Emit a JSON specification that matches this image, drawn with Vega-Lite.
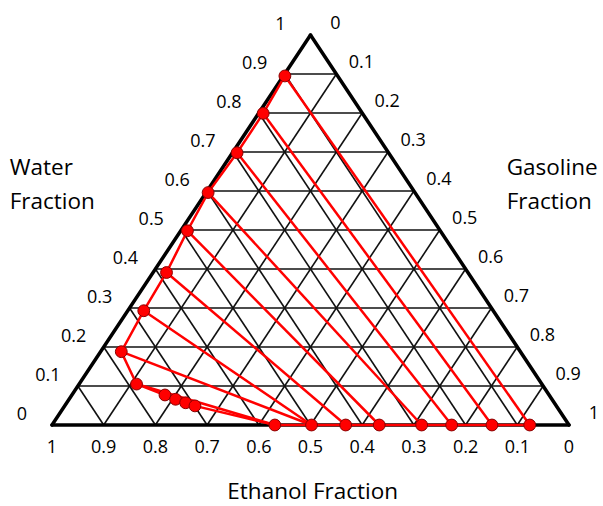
{
  "$schema": "https://vega.github.io/schema/vega-lite/v6.json",
  "width": 517,
  "height": 390,
  "autosize": {"type": "none"},
  "padding": {"left": 52, "top": 35, "right": 34, "bottom": 81},
  "background": "white",
  "config": {"view": {"stroke": null}, "text": {"font": "Open Sans", "color": "black"}},
  "datasets": {
    "grid": [
      {"x": 0.05, "y": 0.1, "x2": 0.95, "y2": 0.1},
      {"x": 0.1, "y": 0.2, "x2": 0.9, "y2": 0.2},
      {"x": 0.15, "y": 0.3, "x2": 0.85, "y2": 0.3},
      {"x": 0.2, "y": 0.4, "x2": 0.8, "y2": 0.4},
      {"x": 0.25, "y": 0.5, "x2": 0.75, "y2": 0.5},
      {"x": 0.3, "y": 0.6, "x2": 0.7, "y2": 0.6},
      {"x": 0.35, "y": 0.7, "x2": 0.65, "y2": 0.7},
      {"x": 0.4, "y": 0.8, "x2": 0.6, "y2": 0.8},
      {"x": 0.45, "y": 0.9, "x2": 0.55, "y2": 0.9},
      {"x": 0.1, "y": 0, "x2": 0.55, "y2": 0.9},
      {"x": 0.2, "y": 0, "x2": 0.6, "y2": 0.8},
      {"x": 0.3, "y": 0, "x2": 0.65, "y2": 0.7},
      {"x": 0.4, "y": 0, "x2": 0.7, "y2": 0.6},
      {"x": 0.5, "y": 0, "x2": 0.75, "y2": 0.5},
      {"x": 0.6, "y": 0, "x2": 0.8, "y2": 0.4},
      {"x": 0.7, "y": 0, "x2": 0.85, "y2": 0.3},
      {"x": 0.8, "y": 0, "x2": 0.9, "y2": 0.2},
      {"x": 0.9, "y": 0, "x2": 0.95, "y2": 0.1},
      {"x": 0.9, "y": 0, "x2": 0.45, "y2": 0.9},
      {"x": 0.8, "y": 0, "x2": 0.4, "y2": 0.8},
      {"x": 0.7, "y": 0, "x2": 0.35, "y2": 0.7},
      {"x": 0.6, "y": 0, "x2": 0.3, "y2": 0.6},
      {"x": 0.5, "y": 0, "x2": 0.25, "y2": 0.5},
      {"x": 0.4, "y": 0, "x2": 0.2, "y2": 0.4},
      {"x": 0.3, "y": 0, "x2": 0.15, "y2": 0.3},
      {"x": 0.2, "y": 0, "x2": 0.1, "y2": 0.2},
      {"x": 0.1, "y": 0, "x2": 0.05, "y2": 0.1}
    ],
    "outline": [
      {"x": 0, "y": 0, "x2": 1, "y2": 0},
      {"x": 0, "y": 0, "x2": 0.5, "y2": 1},
      {"x": 1, "y": 0, "x2": 0.5, "y2": 1}
    ],
    "phases": [
      {"order": 1, "water": 0.895, "gasoline": 0.003, "ethanol": 0.102, "x": 0.4505},
      {"order": 2, "water": 0.799, "gasoline": 0.009, "ethanol": 0.192, "x": 0.4085},
      {"order": 3, "water": 0.698, "gasoline": 0.009, "ethanol": 0.293, "x": 0.358},
      {"order": 4, "water": 0.596, "gasoline": 0.004, "ethanol": 0.4, "x": 0.302},
      {"order": 5, "water": 0.498, "gasoline": 0.013, "ethanol": 0.489, "x": 0.262},
      {"order": 6, "water": 0.391, "gasoline": 0.026, "ethanol": 0.583, "x": 0.2215},
      {"order": 7, "water": 0.293, "gasoline": 0.031, "ethanol": 0.676, "x": 0.1775},
      {"order": 8, "water": 0.188, "gasoline": 0.04, "ethanol": 0.772, "x": 0.134},
      {"order": 9, "water": 0.105, "gasoline": 0.111, "ethanol": 0.784, "x": 0.1635},
      {"order": 10, "water": 0.077, "gasoline": 0.18, "ethanol": 0.743, "x": 0.2185},
      {"order": 11, "water": 0.066, "gasoline": 0.206, "ethanol": 0.728, "x": 0.239},
      {"order": 12, "water": 0.057, "gasoline": 0.23, "ethanol": 0.713, "x": 0.2585},
      {"order": 13, "water": 0.049, "gasoline": 0.252, "ethanol": 0.699, "x": 0.2765},
      {"order": 14, "water": 0, "gasoline": 0.431, "ethanol": 0.569, "x": 0.431},
      {"order": 15, "water": 0, "gasoline": 0.502, "ethanol": 0.498, "x": 0.502},
      {"order": 16, "water": 0, "gasoline": 0.568, "ethanol": 0.432, "x": 0.568},
      {"order": 17, "water": 0, "gasoline": 0.633, "ethanol": 0.367, "x": 0.633},
      {"order": 18, "water": 0, "gasoline": 0.715, "ethanol": 0.285, "x": 0.715},
      {"order": 19, "water": 0, "gasoline": 0.773, "ethanol": 0.227, "x": 0.773},
      {"order": 20, "water": 0, "gasoline": 0.851, "ethanol": 0.149, "x": 0.851},
      {"order": 21, "water": 0, "gasoline": 0.924, "ethanol": 0.076, "x": 0.924}
    ],
    "ties": [
      {"x": 0.4505, "y": 0.895, "x2": 0.924, "y2": 0},
      {"x": 0.4085, "y": 0.799, "x2": 0.851, "y2": 0},
      {"x": 0.358, "y": 0.698, "x2": 0.773, "y2": 0},
      {"x": 0.302, "y": 0.596, "x2": 0.715, "y2": 0},
      {"x": 0.262, "y": 0.498, "x2": 0.633, "y2": 0},
      {"x": 0.2215, "y": 0.391, "x2": 0.568, "y2": 0},
      {"x": 0.1775, "y": 0.293, "x2": 0.502, "y2": 0},
      {"x": 0.134, "y": 0.188, "x2": 0.502, "y2": 0},
      {"x": 0.1635, "y": 0.105, "x2": 0.431, "y2": 0}
    ],
    "waterLabels": [
      {"x": 0, "y": 0, "label": "0"},
      {"x": 0.05, "y": 0.1, "label": "0.1"},
      {"x": 0.1, "y": 0.2, "label": "0.2"},
      {"x": 0.15, "y": 0.3, "label": "0.3"},
      {"x": 0.2, "y": 0.4, "label": "0.4"},
      {"x": 0.25, "y": 0.5, "label": "0.5"},
      {"x": 0.3, "y": 0.6, "label": "0.6"},
      {"x": 0.35, "y": 0.7, "label": "0.7"},
      {"x": 0.4, "y": 0.8, "label": "0.8"},
      {"x": 0.45, "y": 0.9, "label": "0.9"},
      {"x": 0.5, "y": 1, "label": "1"}
    ],
    "ethanolLabels": [
      {"x": 0, "y": 0, "label": "1"},
      {"x": 0.1, "y": 0, "label": "0.9"},
      {"x": 0.2, "y": 0, "label": "0.8"},
      {"x": 0.3, "y": 0, "label": "0.7"},
      {"x": 0.4, "y": 0, "label": "0.6"},
      {"x": 0.5, "y": 0, "label": "0.5"},
      {"x": 0.6, "y": 0, "label": "0.4"},
      {"x": 0.7, "y": 0, "label": "0.3"},
      {"x": 0.8, "y": 0, "label": "0.2"},
      {"x": 0.9, "y": 0, "label": "0.1"},
      {"x": 1, "y": 0, "label": "0"}
    ],
    "gasolineLabels": [
      {"x": 0.5, "y": 1, "label": "0"},
      {"x": 0.55, "y": 0.9, "label": "0.1"},
      {"x": 0.6, "y": 0.8, "label": "0.2"},
      {"x": 0.65, "y": 0.7, "label": "0.3"},
      {"x": 0.7, "y": 0.6, "label": "0.4"},
      {"x": 0.75, "y": 0.5, "label": "0.5"},
      {"x": 0.8, "y": 0.4, "label": "0.6"},
      {"x": 0.85, "y": 0.3, "label": "0.7"},
      {"x": 0.9, "y": 0.2, "label": "0.8"},
      {"x": 0.95, "y": 0.1, "label": "0.9"},
      {"x": 1, "y": 0, "label": "1"}
    ],
    "sideTitles": [
      {"x": -0.0818, "y": 0.659, "lines": ["Water", "Fraction"]},
      {"x": 0.8795, "y": 0.659, "lines": ["Gasoline", "Fraction"]}
    ],
    "bottomTitle": [
      {"x": 0.5043, "y": -0.172, "lines": "Ethanol Fraction"}
    ]
  },
  "layer": [
    {
      "data": {"name": "grid"},
      "mark": {"type": "rule", "color": "#111111", "strokeWidth": 1.6},
      "encoding": {
        "x": {"field": "x", "type": "quantitative", "scale": {"domain": [0, 1], "nice": false, "zero": false}, "axis": null},
        "y": {"field": "y", "type": "quantitative", "scale": {"domain": [0, 1], "nice": false, "zero": false}, "axis": null},
        "x2": {"field": "x2"},
        "y2": {"field": "y2"}
      }
    },
    {
      "data": {"name": "outline"},
      "mark": {"type": "rule", "color": "black", "strokeWidth": 3.5, "strokeCap": "round"},
      "encoding": {
        "x": {"field": "x", "type": "quantitative", "axis": null},
        "y": {"field": "y", "type": "quantitative", "axis": null},
        "x2": {"field": "x2"},
        "y2": {"field": "y2"}
      }
    },
    {
      "data": {"name": "ties"},
      "mark": {"type": "rule", "color": "#ff0000", "strokeWidth": 2.5},
      "encoding": {
        "x": {"field": "x", "type": "quantitative", "axis": null},
        "y": {"field": "y", "type": "quantitative", "axis": null},
        "x2": {"field": "x2"},
        "y2": {"field": "y2"}
      }
    },
    {
      "data": {"name": "phases"},
      "mark": {"type": "line", "color": "#ff0000", "strokeWidth": 2.5},
      "encoding": {
        "x": {"field": "x", "type": "quantitative", "axis": null},
        "y": {"field": "water", "type": "quantitative", "axis": null},
        "order": {"field": "order", "type": "quantitative"}
      }
    },
    {
      "data": {"name": "phases"},
      "mark": {"type": "circle", "color": "#ff0000", "size": 140, "opacity": 1, "stroke": "#8a0000", "strokeWidth": 1},
      "encoding": {
        "x": {"field": "x", "type": "quantitative", "axis": null},
        "y": {"field": "water", "type": "quantitative", "axis": null}
      }
    },
    {
      "data": {"name": "waterLabels"},
      "mark": {"type": "text", "fontSize": 18, "align": "center", "baseline": "middle", "dx": -30, "dy": -10},
      "encoding": {
        "x": {"field": "x", "type": "quantitative", "axis": null},
        "y": {"field": "y", "type": "quantitative", "axis": null},
        "text": {"field": "label", "type": "nominal"}
      }
    },
    {
      "data": {"name": "ethanolLabels"},
      "mark": {"type": "text", "fontSize": 18, "align": "center", "baseline": "middle", "dy": 23},
      "encoding": {
        "x": {"field": "x", "type": "quantitative", "axis": null},
        "y": {"field": "y", "type": "quantitative", "axis": null},
        "text": {"field": "label", "type": "nominal"}
      }
    },
    {
      "data": {"name": "gasolineLabels"},
      "mark": {"type": "text", "fontSize": 18, "align": "center", "baseline": "middle", "dx": 25, "dy": -11},
      "encoding": {
        "x": {"field": "x", "type": "quantitative", "axis": null},
        "y": {"field": "y", "type": "quantitative", "axis": null},
        "text": {"field": "label", "type": "nominal"}
      }
    },
    {
      "data": {"name": "sideTitles"},
      "mark": {"type": "text", "fontSize": 22.5, "align": "left", "baseline": "middle", "lineHeight": 34},
      "encoding": {
        "x": {"field": "x", "type": "quantitative", "axis": null},
        "y": {"field": "y", "type": "quantitative", "axis": null},
        "text": {"field": "lines", "type": "nominal"}
      }
    },
    {
      "data": {"name": "bottomTitle"},
      "mark": {"type": "text", "fontSize": 22.5, "align": "center", "baseline": "middle"},
      "encoding": {
        "x": {"field": "x", "type": "quantitative", "axis": null},
        "y": {"field": "y", "type": "quantitative", "axis": null},
        "text": {"field": "lines", "type": "nominal"}
      }
    }
  ]
}
